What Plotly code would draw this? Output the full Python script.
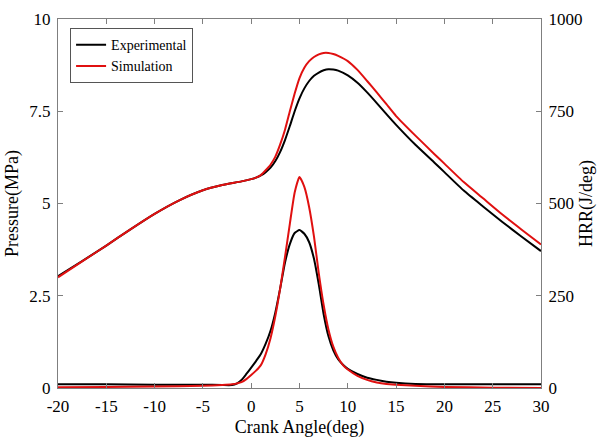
import plotly.graph_objects as go

# Pressure (MPa) vs crank angle
p_exp_x = [-20, -17.5, -15, -12.5, -10, -7.5, -5, -3, -1, 0, 0.5, 1, 1.5, 2, 2.5, 3, 3.5, 4, 4.5, 5, 5.5, 6, 6.5, 7, 7.5, 8, 8.5, 9, 10, 11, 12, 13, 14, 15, 17, 19, 20, 22, 24, 26, 28, 30]
p_exp_y = [3.03, 3.44, 3.86, 4.3, 4.72, 5.08, 5.36, 5.5, 5.6, 5.66, 5.7, 5.76, 5.85, 5.97, 6.15, 6.4, 6.72, 7.1, 7.5, 7.85, 8.12, 8.32, 8.46, 8.55, 8.61, 8.64, 8.63, 8.6, 8.47, 8.27, 8.01, 7.72, 7.42, 7.13, 6.59, 6.1, 5.85, 5.35, 4.92, 4.5, 4.1, 3.71]

p_sim_x = [-20, -17.5, -15, -12.5, -10, -7.5, -5, -3, -1, 0, 0.5, 1, 1.5, 2, 2.5, 3, 3.5, 4, 4.5, 5, 5.5, 6, 6.5, 7, 7.5, 8, 8.5, 9, 10, 11, 12, 13, 14, 15, 17, 19, 20, 22, 24, 26, 28, 30]
p_sim_y = [3.0, 3.43, 3.86, 4.3, 4.72, 5.08, 5.36, 5.5, 5.6, 5.66, 5.7, 5.77, 5.9, 6.05, 6.27, 6.6, 7.0, 7.5, 7.98, 8.4, 8.68, 8.86, 8.97, 9.04, 9.08, 9.08, 9.05, 9.0, 8.86, 8.62, 8.32, 8.01, 7.69, 7.37, 6.84, 6.33, 6.08, 5.58, 5.14, 4.7, 4.29, 3.89]

# Heat release rate (J/deg)
h_exp_x = [-20, -15, -10, -5, -3, -2, -1.5, -1, -0.5, 0, 0.5, 1, 1.5, 2, 2.5, 3, 3.5, 4, 4.5, 5, 5.5, 6, 6.5, 7, 7.5, 8, 8.5, 9, 9.5, 10, 11, 12, 13, 14, 15, 17, 20, 25, 30]
h_exp_y = [10, 10, 9, 9, 8, 8, 12, 22, 38, 55, 73, 92, 120, 155, 205, 270, 340, 390, 420, 428, 418, 395, 350, 280, 200, 140, 102, 78, 63, 52, 38, 28, 22, 17, 14, 11, 10, 10, 10]

h_sim_x = [-20, -15, -10, -5, -3, -2, -1, -0.5, 0, 0.5, 1, 1.5, 2, 2.5, 3, 3.5, 4, 4.5, 5, 5.5, 6, 6.5, 7, 7.5, 8, 8.5, 9, 9.5, 10, 11, 12, 13, 14, 15, 17, 20, 25, 30]
h_sim_y = [2, 3, 4, 6, 8, 10, 16, 24, 35, 47, 62, 92, 135, 195, 270, 355, 445, 530, 572, 545, 490, 410, 310, 225, 158, 112, 82, 62, 50, 33, 22, 15, 11, 9, 6, 3, 1, 0]

x_ticks = [-20, -15, -10, -5, 0, 5, 10, 15, 20, 25, 30]
x_tick_text = ["-20", "-15", "-10", "-5", "0", "5", "10", "15", "20", "25", "30"]
p_ticks = [0, 2.5, 5, 7.5, 10]
p_tick_text = ["0", "2.5", "5", "7.5", "10"]
h_ticks = [0, 250, 500, 750, 1000]
h_tick_text = ["0", "250", "500", "750", "1000"]

BLACK = "#000000"
RED = "#e01010"
AX = "#7f7f7f"
FONT = "Liberation Serif, Times New Roman, serif"

line_kw = dict(width=2, shape="spline", smoothing=0.5)

fig = go.Figure()
fig.add_trace(go.Scatter(x=p_exp_x, y=p_exp_y, mode="lines", name="Experimental",
                         line=dict(color=BLACK, **line_kw), yaxis="y"))
fig.add_trace(go.Scatter(x=p_sim_x, y=p_sim_y, mode="lines", name="Simulation",
                         line=dict(color=RED, **line_kw), yaxis="y"))
fig.add_trace(go.Scatter(x=h_exp_x, y=h_exp_y, mode="lines", name="Experimental", showlegend=False,
                         line=dict(color=BLACK, **line_kw), yaxis="y2"))
fig.add_trace(go.Scatter(x=h_sim_x, y=h_sim_y, mode="lines", name="Simulation", showlegend=False,
                         line=dict(color=RED, **line_kw), yaxis="y2"))

fig.update_layout(
    width=597, height=439,
    margin=dict(l=58, r=56, t=19, b=51),
    paper_bgcolor="white", plot_bgcolor="white",
    font=dict(family=FONT, size=17, color="#000"),
    xaxis=dict(range=[-20, 30], tickvals=x_ticks, ticktext=x_tick_text, ticks="inside", ticklen=5, tickcolor=AX,
               showline=True, linecolor=AX, linewidth=1, mirror="ticks", showgrid=False, zeroline=False,
               ticklabelstandoff=3, automargin=False,
               title=dict(text="Crank Angle(deg)", standoff=4, font=dict(family=FONT, size=18)),
               tickfont=dict(family=FONT, size=17)),
    yaxis=dict(range=[0, 10], tickvals=p_ticks, ticktext=p_tick_text, ticks="inside", ticklen=5, tickcolor=AX,
               showline=True, linecolor=AX, linewidth=1, showgrid=False, zeroline=False,
               ticklabelstandoff=3, automargin=False,
               title=dict(text="Pressure(MPa)", standoff=6, font=dict(family=FONT, size=18)),
               tickfont=dict(family=FONT, size=17)),
    yaxis2=dict(range=[0, 1000], tickvals=h_ticks, ticktext=h_tick_text, ticks="inside", ticklen=5, tickcolor=AX,
                overlaying="y", side="right", showline=True, linecolor=AX, linewidth=1,
                showgrid=False, zeroline=False, ticklabelstandoff=3, automargin=False,
                title=dict(text="HRR(J/deg)", standoff=8, font=dict(family=FONT, size=18)),
                tickfont=dict(family=FONT, size=17)),
    legend=dict(x=0.025, y=0.975, xanchor="left", yanchor="top", bgcolor="white",
                bordercolor="#555", borderwidth=1, font=dict(family=FONT, size=14),
                itemwidth=30, tracegroupgap=0),
    showlegend=True,
)

fig.write_html("out.html")
